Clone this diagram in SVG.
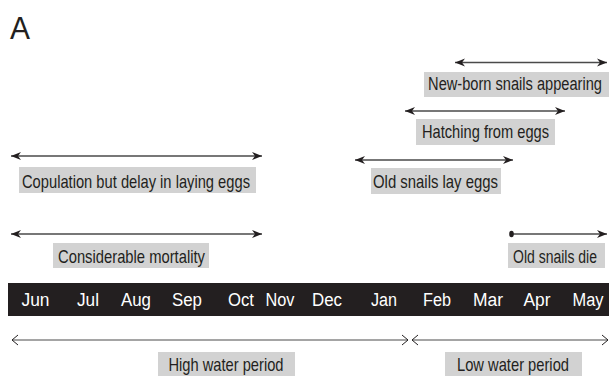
<svg xmlns="http://www.w3.org/2000/svg" width="609" height="376" viewBox="0 0 609 376">
  <style>
    .box { fill: #d2d2d2; }
    .lbl { font-family: "Liberation Sans", Arial, sans-serif; font-size: 19px; fill: #231f20; text-anchor: middle; }
    .mon { font-family: "Liberation Sans", Arial, sans-serif; font-size: 18px; fill: #ffffff; text-anchor: middle; }
    .span { stroke: #4a4a4a; stroke-width: 1.3; fill: none; }
    .wspan { stroke: #4a4a4a; stroke-width: 1; fill: none; }
  </style>
  <defs>
    <marker id="ah" markerUnits="userSpaceOnUse" markerWidth="12" markerHeight="10" refX="10" refY="4" orient="auto-start-reverse" viewBox="0 0 12 8">
      <path d="M0,0 L10,4 L0,8 L3,4 Z" fill="#231f20"/>
    </marker>
    <marker id="oh" markerUnits="userSpaceOnUse" markerWidth="8" markerHeight="12" refX="6" refY="5" orient="auto-start-reverse" viewBox="-1 -1 8 12">
      <path d="M0,0 L6,5 L0,10" fill="none" stroke="#231f20" stroke-width="1"/>
    </marker>
  </defs>

  <text x="10" y="39" font-family="'Liberation Sans', Arial, sans-serif" font-size="31" fill="#231f20" textLength="20" lengthAdjust="spacingAndGlyphs">A</text>

  <g id="connectors">
    <line class="span" x1="455" y1="62.5" x2="607" y2="62.5" marker-start="url(#ah)" marker-end="url(#ah)"/>
    <line class="span" x1="405" y1="111" x2="565" y2="111" marker-start="url(#ah)" marker-end="url(#ah)"/>
    <line class="span" x1="11" y1="156" x2="262" y2="156" marker-start="url(#ah)" marker-end="url(#ah)"/>
    <line class="span" x1="355" y1="160" x2="513" y2="160" marker-start="url(#ah)" marker-end="url(#ah)"/>
    <line class="span" x1="11" y1="234" x2="262" y2="234" marker-start="url(#ah)" marker-end="url(#ah)"/>
    <line class="span" x1="511" y1="234" x2="607" y2="234" marker-end="url(#ah)"/>
    <ellipse cx="511.5" cy="234" rx="2.3" ry="3.3" fill="#231f20"/>
    <line class="wspan" x1="12" y1="340" x2="408" y2="340" marker-start="url(#oh)" marker-end="url(#oh)"/>
    <line class="wspan" x1="412" y1="340" x2="608" y2="340" marker-start="url(#oh)" marker-end="url(#oh)"/>
  </g>

  <g id="newborn">
    <rect class="box" x="424" y="72" width="185" height="25"/>
    <text class="lbl" transform="translate(515,90) scale(0.77,1)" x="0" y="0">New-born snails appearing</text>
  </g>
  <g id="hatching">
    <rect class="box" x="416" y="119" width="139" height="26"/>
    <text class="lbl" x="485.5" y="138" textLength="127" lengthAdjust="spacingAndGlyphs">Hatching from eggs</text>
  </g>
  <g id="copulation">
    <rect class="box" x="19" y="167" width="237" height="26"/>
    <text class="lbl" x="136" y="187.5" textLength="228" lengthAdjust="spacingAndGlyphs">Copulation but delay in laying eggs</text>
  </g>
  <g id="layeggs">
    <rect class="box" x="371" y="168" width="130" height="26"/>
    <text class="lbl" x="435.5" y="187.5" textLength="125" lengthAdjust="spacingAndGlyphs">Old snails lay eggs</text>
  </g>
  <g id="mortality">
    <rect class="box" x="53" y="243" width="156" height="25"/>
    <text class="lbl" x="131.5" y="262.5" textLength="147" lengthAdjust="spacingAndGlyphs">Considerable mortality</text>
  </g>
  <g id="snailsdie">
    <rect class="box" x="508" y="243" width="97" height="25"/>
    <text class="lbl" transform="translate(555,262.5) scale(0.737,1)" x="0" y="0">Old snails die</text>
  </g>

  <g id="months">
    <rect x="8" y="283" width="601" height="33" fill="#231f20"/>
    <text class="mon" x="35.5" y="305.5" textLength="28" lengthAdjust="spacingAndGlyphs">Jun</text>
    <text class="mon" x="88" y="305.5" textLength="22" lengthAdjust="spacingAndGlyphs">Jul</text>
    <text class="mon" x="136" y="305.5" textLength="30" lengthAdjust="spacingAndGlyphs">Aug</text>
    <text class="mon" x="187" y="305.5" textLength="30" lengthAdjust="spacingAndGlyphs">Sep</text>
    <text class="mon" x="241" y="305.5" textLength="26" lengthAdjust="spacingAndGlyphs">Oct</text>
    <text class="mon" x="280" y="305.5" textLength="29" lengthAdjust="spacingAndGlyphs">Nov</text>
    <text class="mon" x="327" y="305.5" textLength="30" lengthAdjust="spacingAndGlyphs">Dec</text>
    <text class="mon" x="384" y="305.5" textLength="26" lengthAdjust="spacingAndGlyphs">Jan</text>
    <text class="mon" x="437" y="305.5" textLength="28" lengthAdjust="spacingAndGlyphs">Feb</text>
    <text class="mon" x="488" y="305.5" textLength="30" lengthAdjust="spacingAndGlyphs">Mar</text>
    <text class="mon" x="537" y="305.5" textLength="27" lengthAdjust="spacingAndGlyphs">Apr</text>
    <text class="mon" x="588" y="305.5" textLength="31" lengthAdjust="spacingAndGlyphs">May</text>
  </g>

  <g id="highwater">
    <rect class="box" x="158" y="352" width="137" height="24"/>
    <text class="lbl" x="226" y="371" textLength="115" lengthAdjust="spacingAndGlyphs">High water period</text>
  </g>
  <g id="lowwater">
    <rect class="box" x="445" y="352" width="137" height="24"/>
    <text class="lbl" x="513" y="371" textLength="112" lengthAdjust="spacingAndGlyphs">Low water period</text>
  </g>
</svg>
